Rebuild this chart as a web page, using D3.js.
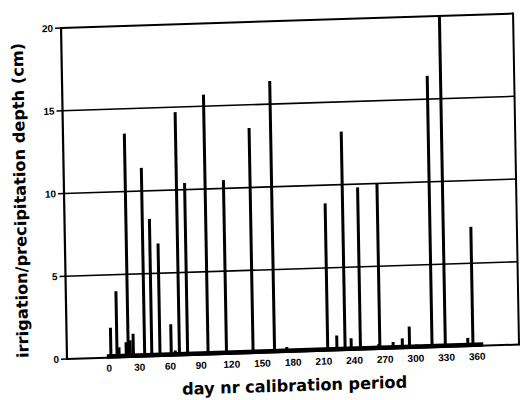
<!DOCTYPE html>
<html><head><meta charset="utf-8">
<script src="https://cdn.jsdelivr.net/npm/d3@7"></script>
<style>html,body{margin:0;padding:0;background:#fff;} svg{display:block;}</style>
</head><body>
<svg id="chart" width="520" height="400"></svg>
<script>
// ---- data ----
const days   = [2, 8, 10, 17, 19, 21, 24, 35, 42, 50, 61, 65, 69, 77, 97, 115, 141, 162, 174, 214, 223, 231, 237, 246, 264, 265, 278, 287, 294, 301, 316, 329, 351, 356];
const depths = [1.8, 4.0, 0.6, 0.9, 13.5, 1.0, 1.4, 11.4, 8.3, 6.8, 1.9, 0.3, 14.7, 10.4, 15.7, 10.5, 13.6, 16.4, 0.3, 8.9, 0.9, 13.2, 0.7, 9.8, 0.3, 10.0, 0.4, 0.6, 1.3, 0.2, 16.4, 20, 0.5, 7.2];
const xTicks = [0, 30, 60, 90, 120, 150, 180, 210, 240, 270, 300, 330, 360];
const yTicks = [0, 5, 10, 15, 20];
const baseRange = [-2, 366];   // span of the daily near-zero values forming the thick base
const xTitle = "day nr calibration period";
const yTitle = "irrigation/precipitation depth (cm)";

// ---- layout ----
const svg = d3.select("#chart");
const L = 67, R = 519, B = 359, T = 28;
const x = d3.scaleLinear().domain([-41, 401]).range([L, R]);
const y = d3.scaleLinear().domain([0, 20]).range([B, T]);

// slight skew of the scanned page
const a = 0.018, b = -0.032;
const g = svg.append("g")
  .attr("transform", `matrix(1,${b},${a},1,${-a * B},${-b * L})`);

const ink = "#000";

// gridlines
g.selectAll("line.grid").data(yTicks.filter(v => v > 0)).join("line")
  .attr("x1", L).attr("x2", R)
  .attr("y1", d => y(d)).attr("y2", d => y(d))
  .attr("stroke", ink).attr("stroke-width", d => d === 20 ? 2 : 1.6);

// frame
g.append("line").attr("x1", L).attr("x2", L).attr("y1", y(20) - 1).attr("y2", y(0) + 1)
  .attr("stroke", ink).attr("stroke-width", 2.2);
g.append("line").attr("x1", R).attr("x2", R).attr("y1", y(20) - 1).attr("y2", y(0) + 1)
  .attr("stroke", ink).attr("stroke-width", 2);
g.append("line").attr("x1", L).attr("x2", R).attr("y1", y(0)).attr("y2", y(0))
  .attr("stroke", ink).attr("stroke-width", 2);

// thick base of tiny daily values
g.append("rect")
  .attr("x", x(baseRange[0])).attr("width", x(baseRange[1]) - x(baseRange[0]))
  .attr("y", y(0) - 3.5).attr("height", 4.5).attr("fill", ink);

// bars
const data = days.map((d, i) => ({ day: d, v: depths[i] }));
g.selectAll("rect.bar").data(data).join("rect")
  .attr("x", d => x(d.day) - 1.5).attr("width", 3)
  .attr("y", d => y(d.v)).attr("height", d => y(0) - y(d.v))
  .attr("fill", ink);

// y ticks
g.selectAll("line.yt").data(yTicks).join("line")
  .attr("x1", L - 6).attr("x2", L)
  .attr("y1", d => y(d)).attr("y2", d => y(d))
  .attr("stroke", ink).attr("stroke-width", 1.6);
g.selectAll("text.yl").data(yTicks).join("text")
  .attr("x", L - 8).attr("y", d => y(d)).attr("dy", "0.36em")
  .attr("text-anchor", "end")
  .attr("font-family", "Liberation Sans, Arial, sans-serif")
  .attr("font-weight", "bold").attr("font-size", 10)
  .attr("fill", ink).text(d => d);

// x tick labels
g.selectAll("text.xl").data(xTicks).join("text")
  .attr("x", d => x(d)).attr("y", 373)
  .attr("text-anchor", "middle")
  .attr("font-family", "Liberation Sans, Arial, sans-serif")
  .attr("font-weight", "bold").attr("font-size", 10)
  .attr("fill", ink).text(d => d);

// titles
g.append("text")
  .attr("x", 294).attr("y", 398.5).attr("text-anchor", "middle")
  .attr("font-family", "DejaVu Sans, sans-serif").attr("font-weight", "bold")
  .attr("font-size", 16.5).attr("textLength", 225).attr("lengthAdjust", "spacingAndGlyphs")
  .attr("fill", ink).text(xTitle);

g.append("text")
  .attr("transform", "translate(23,199) rotate(-90)")
  .attr("dy", "0.35em").attr("text-anchor", "middle")
  .attr("font-family", "DejaVu Sans, sans-serif").attr("font-weight", "bold")
  .attr("font-size", 16).attr("textLength", 315).attr("lengthAdjust", "spacingAndGlyphs")
  .attr("fill", ink).text(yTitle);
</script>
</body></html>
